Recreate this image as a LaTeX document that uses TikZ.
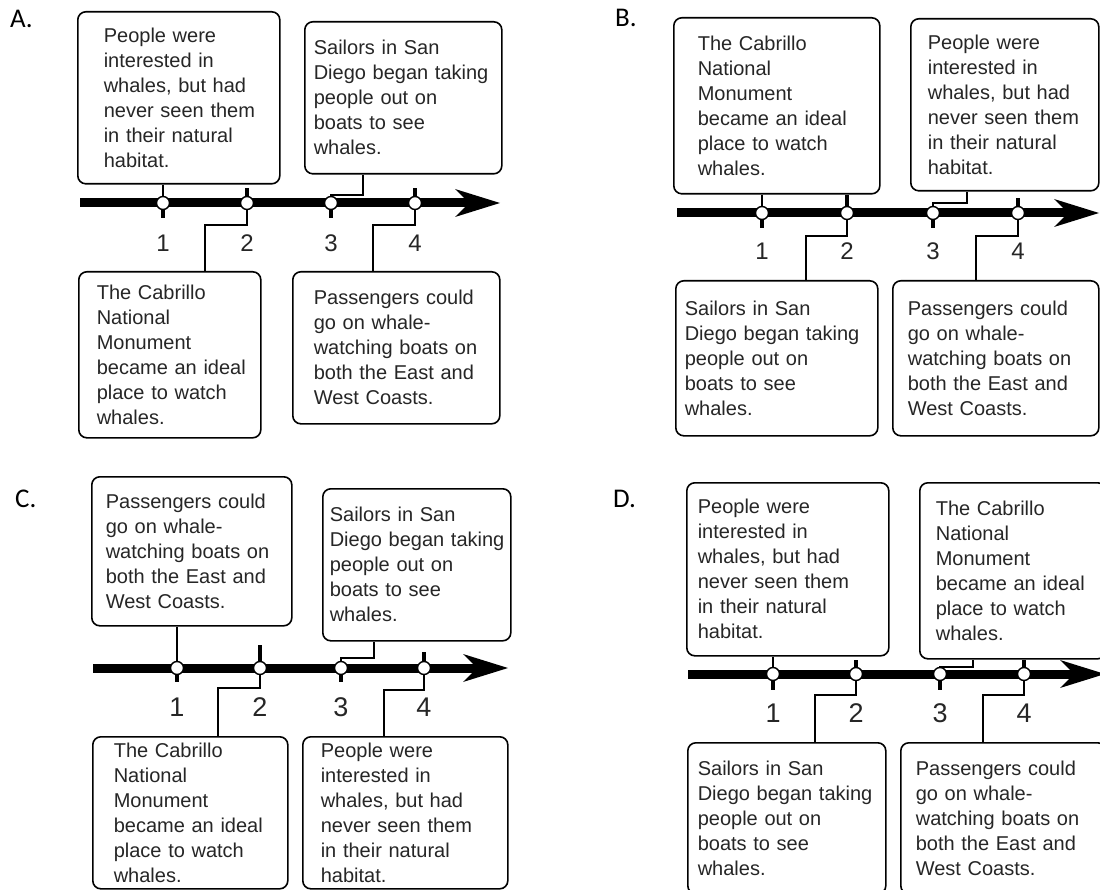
\documentclass[tikz,border=0pt]{standalone}
\usepackage{fontspec}
\setmainfont{Liberation Sans}
\newfontfamily\labelfont{Carlito}
\usetikzlibrary{arrows.meta}
\tikzset{
  textbox/.style={draw, line width=1.6pt, rounded corners=8pt, anchor=north west,
    inner sep=0pt, align=left, text=black!85, font=\fontsize{20}{25}\selectfont},
  textinset/.style={execute at begin node={\leftskip=#1\relax}},
  num/.style={inner sep=0pt, text=black!85, font=\fontsize{#1}{#1}\selectfont},
}
\tikzstyle{panel}=[anchor=base west, inner sep=0pt, font=\labelfont\fontsize{27}{27}\selectfont]
\tikzstyle{timeline}=[line width=9pt, -{Stealth[length=45pt,width=28pt,inset=14pt,line width=0pt]}]
\tikzstyle{stub}=[line width=4pt]
\tikzstyle{link}=[line width=1.8pt]
\tikzstyle{dot}=[circle, draw, fill=white, line width=1.4pt, minimum size=13pt, inner sep=0pt]

\begin{document}
\begin{tikzpicture}[x=1pt,y=-1pt]
  \path[use as bounding box, fill=white] (0,0) rectangle (1100,890);

  % A
  \node[panel] (A) at (10,28) {A.};
  \node[textbox, text width=202pt, minimum height=172pt, textinset=26pt] (A1) at (77,11)
    {People were\\interested in\\whales, but had\\never seen them\\in their natural\\habitat.};
  \node[textbox, text width=197pt, minimum height=152pt, textinset=9pt] (A2) at (304,21)
    {Sailors in San\\Diego began taking\\people out on\\boats to see\\whales.};
  \node[textbox, text width=182pt, minimum height=166pt, textinset=18pt] (A3) at (78,271)
    {The Cabrillo\\National\\Monument\\became an ideal\\place to watch\\whales.};
  \node[textbox, text width=207pt, minimum height=152pt, textinset=21pt] (A4) at (292,271)
    {Passengers could\\go on whale-\\watching boats on\\both the East and\\West Coasts.};
  \coordinate (A-s) at (80,203);
  \coordinate (A-e) at (500,203);
  \foreach \i/\x in {1/163,2/247,3/331,4/415}
    \coordinate (A-p\i) at (\x,203);
  \coordinate (A-k2) at (205,225);
  \coordinate (A-k3) at (363,195);
  \coordinate (A-k4) at (373,225);
  \draw[timeline] (A-s) -- (A-e);
  \draw[stub] (A-p1) -- ++(0,15);
  \draw[stub] (A-p2) -- ++(0,-15);
  \draw[stub] (A-p3) -- ++(0,15);
  \draw[stub] (A-p4) -- ++(0,-15);
  \draw[link] (A1.south -| A-p1) -- (A-p1);
  \draw[link] (A-p2) |- (A-k2) -- (A-k2 |- A3.north);
  \draw[link] (A-p3) |- (A-k3) -- (A-k3 |- A2.south);
  \draw[link] (A-p4) |- (A-k4) -- (A-k4 |- A4.north);
  \foreach \i in {1,...,4} {
    \node[dot] (A-d\i) at (A-p\i) {};
    \node[num=24] (A-n\i) at ([yshift=-40.5pt]A-p\i) {\i};
  }

  % B
  \node[panel] (B) at (615,27) {B.};
  \node[textbox, text width=206pt, minimum height=176pt, textinset=24pt] (B1) at (673,17)
    {The Cabrillo\\National\\Monument\\became an ideal\\place to watch\\whales.};
  \node[textbox, text width=188pt, minimum height=172pt, textinset=17pt] (B2) at (910,18)
    {People were\\interested in\\whales, but had\\never seen them\\in their natural\\habitat.};
  \node[textbox, text width=202pt, minimum height=155pt, textinset=9pt] (B3) at (675,280)
    {Sailors in San\\Diego began taking\\people out on\\boats to see\\whales.};
  \node[textbox, text width=206pt, minimum height=155pt, textinset=15pt] (B4) at (892,280)
    {Passengers could\\go on whale-\\watching boats on\\both the East and\\West Coasts.};
  \coordinate (B-s) at (677,213);
  \coordinate (B-e) at (1099,213);
  \foreach \i/\x in {1/762,2/847,3/933,4/1018}
    \coordinate (B-p\i) at (\x,213);
  \coordinate (B-k2) at (806,236);
  \coordinate (B-k3) at (967,203);
  \coordinate (B-k4) at (976,236);
  \draw[timeline] (B-s) -- (B-e);
  \draw[stub] (B-p1) -- ++(0,15);
  \draw[stub] (B-p2) -- (B-p2 |- B1.south);
  \draw[stub] (B-p3) -- ++(0,15);
  \draw[stub] (B-p4) -- ++(0,-15);
  \draw[link] (B1.south -| B-p1) -- (B-p1);
  \draw[link] (B-p2) |- (B-k2) -- (B-k2 |- B3.north);
  \draw[link] (B-p3) |- (B-k3) -- (B-k3 |- B2.south);
  \draw[link] (B-p4) |- (B-k4) -- (B-k4 |- B4.north);
  \foreach \i in {1,...,4} {
    \node[dot] (B-d\i) at (B-p\i) {};
    \node[num=24] (B-n\i) at ([yshift=-38.5pt]B-p\i) {\i};
  }

  % C
  \node[panel] (C) at (15,507) {C.};
  \node[textbox, text width=200pt, minimum height=149pt, textinset=14pt] (C1) at (91,476)
    {Passengers could\\go on whale-\\watching boats on\\both the East and\\West Coasts.};
  \node[textbox, text width=188pt, minimum height=152pt, textinset=7pt] (C2) at (322,488)
    {Sailors in San\\Diego began taking\\people out on\\boats to see\\whales.};
  \node[textbox, text width=195pt, minimum height=152pt, textinset=21pt] (C3) at (92,736)
    {The Cabrillo\\National\\Monument\\became an ideal\\place to watch\\whales.};
  \node[textbox, text width=205pt, minimum height=152pt, textinset=18pt] (C4) at (302,736)
    {People were\\interested in\\whales, but had\\never seen them\\in their natural\\habitat.};
  \coordinate (C-s) at (93,668);
  \coordinate (C-e) at (508,668);
  \foreach \i/\x in {1/177,2/260,3/341,4/424}
    \coordinate (C-p\i) at (\x,668);
  \coordinate (C-k2) at (218,688);
  \coordinate (C-k3) at (374,658);
  \coordinate (C-k4) at (384,690);
  \draw[timeline] (C-s) -- (C-e);
  \draw[stub] (C-p1) -- ++(0,14);
  \draw[stub] (C-p2) -- ++(0,-23);
  \draw[stub] (C-p3) -- ++(0,14);
  \draw[stub] (C-p4) -- ++(0,-16);
  \draw[link] (C1.south -| C-p1) -- (C-p1);
  \draw[link] (C-p2) |- (C-k2) -- (C-k2 |- C3.north);
  \draw[link] (C-p3) |- (C-k3) -- (C-k3 |- C2.south);
  \draw[link] (C-p4) |- (C-k4) -- (C-k4 |- C4.north);
  \foreach \i in {1,...,4} {
    \node[dot] (C-d\i) at (C-p\i) {};
    \node[num=27] (C-n\i) at ([yshift=-39pt]C-p\i) {\i};
  }

  % D
  \node[panel] (D) at (613,507) {D.};
  \node[textbox, text width=202pt, minimum height=173pt, textinset=11pt] (D1) at (686,482)
    {People were\\interested in\\whales, but had\\never seen them\\in their natural\\habitat.};
  \node[textbox, text width=186pt, minimum height=176pt, textinset=16pt] (D2) at (919,482)
    {The Cabrillo\\National\\Monument\\became an ideal\\place to watch\\whales.};
  \node[textbox, text width=198pt, minimum height=151pt, textinset=10pt] (D3) at (687,742)
    {Sailors in San\\Diego began taking\\people out on\\boats to see\\whales.};
  \node[textbox, text width=205pt, minimum height=151pt, textinset=15pt] (D4) at (900,742)
    {Passengers could\\go on whale-\\watching boats on\\both the East and\\West Coasts.};
  \coordinate (D-s) at (688,674);
  \coordinate (D-e) at (1105,674);
  \foreach \i/\x in {1/773,2/856,3/940,4/1024}
    \coordinate (D-p\i) at (\x,674);
  \coordinate (D-k2) at (815,695);
  \coordinate (D-k3) at (973,667);
  \coordinate (D-k4) at (983,695);
  \draw[timeline] (D-s) -- (D-e);
  \draw[stub] (D-p1) -- ++(0,16);
  \draw[stub] (D-p2) -- ++(0,-14);
  \draw[stub] (D-p3) -- ++(0,16);
  \draw[stub] (D-p4) -- (D-p4 |- D2.south);
  \draw[link] (D1.south -| D-p1) -- (D-p1);
  \draw[link] (D-p2) |- (D-k2) -- (D-k2 |- D3.north);
  \draw[link] (D-p3) |- (D-k3) -- (D-k3 |- D2.south);
  \draw[link] (D-p4) |- (D-k4) -- (D-k4 |- D4.north);
  \foreach \i in {1,...,4} {
    \node[dot] (D-d\i) at (D-p\i) {};
    \node[num=27] (D-n\i) at ([yshift=-39.5pt]D-p\i) {\i};
  }
\end{tikzpicture}
\end{document}
